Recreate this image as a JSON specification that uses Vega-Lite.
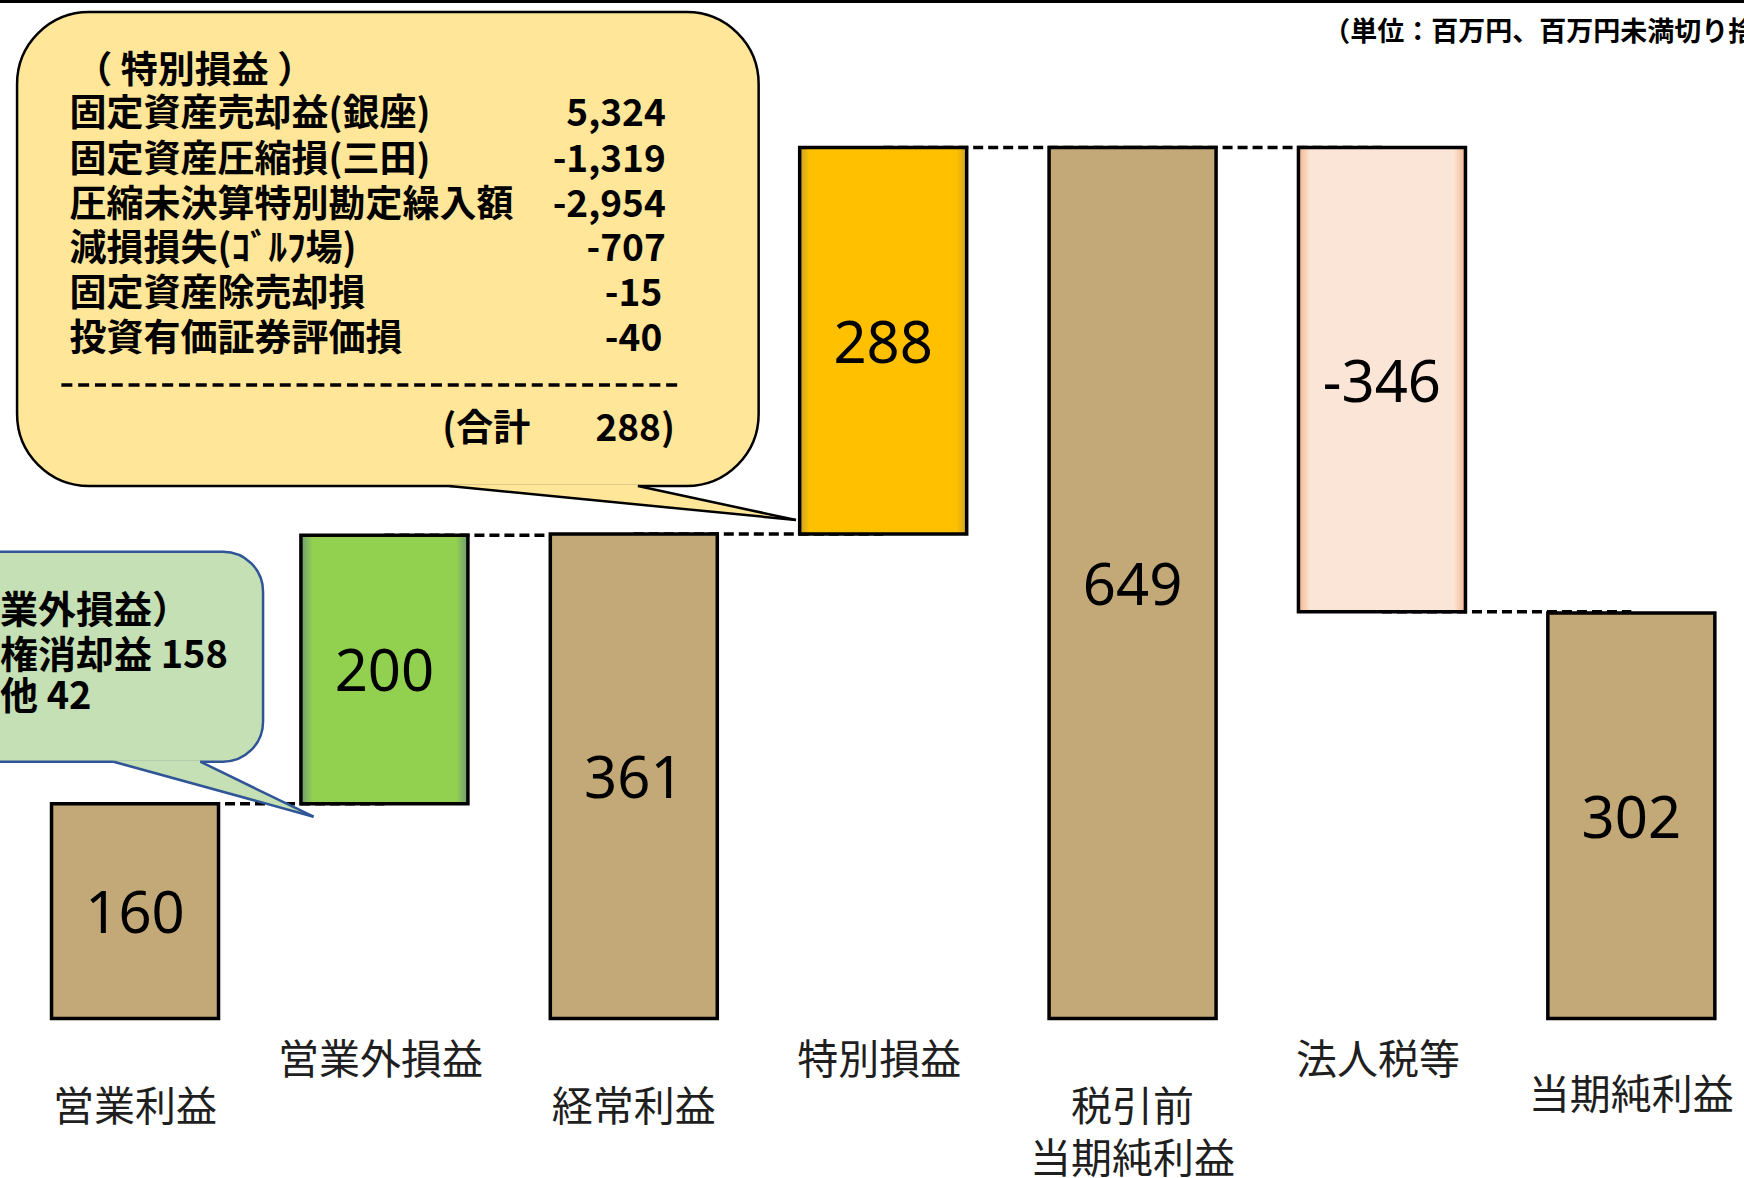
{
  "$schema": "https://vega.github.io/schema/vega-lite/v6.json",
  "width": 1734,
  "height": 939.4,
  "autosize": {"type": "none"},
  "padding": {"left": 10, "top": 79, "right": 0, "bottom": 159.6},
  "background": "white",
  "config": {"view": {"stroke": null}},
  "datasets": {
    "steps": [
      {"i": 0, "name": "営業利益", "kind": "total", "start": 0, "end": 160, "lbl": "160"},
      {"i": 1, "name": "営業外損益", "kind": "gain", "start": 160, "end": 360, "lbl": "200"},
      {"i": 2, "name": "経常利益", "kind": "total", "start": 0, "end": 361, "lbl": "361"},
      {"i": 3, "name": "特別損益", "kind": "special", "start": 361, "end": 649, "lbl": "288"},
      {"i": 4, "name": ["税引前", "当期純利益"], "kind": "total", "start": 0, "end": 649, "lbl": "649"},
      {"i": 5, "name": "法人税等", "kind": "tax", "start": 649, "end": 303, "lbl": "-346"},
      {"i": 6, "name": "当期純利益", "kind": "total", "start": 0, "end": 302, "lbl": "302"}
    ]
  },
  "layer": [
    {
      "data": {"name": "steps"},
      "transform": [
        {"window": [{"op": "lead", "field": "i", "as": "inext"}], "sort": [{"field": "i", "order": "ascending"}]},
        {"filter": "datum.inext != null"}
      ],
      "mark": {"type": "rule", "strokeDash": [10, 5], "strokeWidth": 3.5, "color": "black"},
      "encoding": {
        "x": {"field": "i", "type": "quantitative", "scale": {"domain": [-0.4813, 6.4317], "nice": false, "zero": false}, "axis": null},
        "x2": {"field": "inext"},
        "y": {"field": "end", "type": "quantitative", "scale": {"domain": [0, 700], "nice": false, "zero": false},
              "axis": {"values": [0, 100, 200, 300, 400, 500, 600, 700], "grid": true, "gridColor": "#D9D9D9", "gridWidth": 2.5, "labels": false, "ticks": false, "domain": false, "title": null}}
      }
    },
    {
      "data": {"name": "steps"},
      "mark": {"type": "bar", "width": 167, "stroke": "black", "strokeWidth": 3.5},
      "encoding": {
        "x": {"field": "i", "type": "quantitative", "scale": {"domain": [-0.4813, 6.4317], "nice": false, "zero": false}, "axis": null},
        "y": {"field": "start", "type": "quantitative", "scale": {"domain": [0, 700], "nice": false, "zero": false}, "axis": null},
        "y2": {"field": "end"},
        "fill": {
          "condition": [
            {"test": "datum.kind === 'gain'", "value": {"gradient": "linear", "x1": 0, "y1": 0, "x2": 1, "y2": 0, "stops": [{"offset": 0, "color": "#6F9A74"}, {"offset": 0.07, "color": "#92D050"}, {"offset": 0.93, "color": "#92D050"}, {"offset": 1, "color": "#6F9A74"}]}},
            {"test": "datum.kind === 'special'", "value": {"gradient": "linear", "x1": 0, "y1": 0, "x2": 1, "y2": 0, "stops": [{"offset": 0, "color": "#C9A227"}, {"offset": 0.06, "color": "#FFC000"}, {"offset": 0.94, "color": "#FFC000"}, {"offset": 1, "color": "#C9A227"}]}},
            {"test": "datum.kind === 'tax'", "value": {"gradient": "linear", "x1": 0, "y1": 0, "x2": 1, "y2": 0, "stops": [{"offset": 0, "color": "#F1B48C"}, {"offset": 0.07, "color": "#FBE5D6"}, {"offset": 0.93, "color": "#FBE5D6"}, {"offset": 1, "color": "#F1B48C"}]}}
          ],
          "value": "#C2A977"
        }
      }
    },
    {
      "data": {"name": "steps"},
      "transform": [
        {"fold": ["start", "end"], "as": ["edge", "v"]},
        {"aggregate": [{"op": "mean", "field": "v", "as": "mid"}], "groupby": ["i", "lbl"]}
      ],
      "mark": {"type": "text", "font": "Noto Sans", "fontSize": 58, "color": "black", "baseline": "middle", "align": "center", "dy": 5},
      "encoding": {
        "x": {"field": "i", "type": "quantitative", "scale": {"domain": [-0.4813, 6.4317], "nice": false, "zero": false}, "axis": null},
        "y": {"field": "mid", "type": "quantitative", "scale": {"domain": [0, 700], "nice": false, "zero": false}, "axis": null},
        "text": {"field": "lbl", "type": "nominal"}
      }
    },
    {
      "data": {"name": "steps"},
      "transform": [{"filter": "datum.i % 2 === 1"}],
      "mark": {"type": "text", "font": "Noto Sans CJK JP", "fontSize": 41, "color": "#1F1F1F", "baseline": "top", "align": "center", "dy": 24, "dx": -4},
      "encoding": {
        "x": {"field": "i", "type": "quantitative", "scale": {"domain": [-0.4813, 6.4317], "nice": false, "zero": false}, "axis": null},
        "y": {"datum": 0, "type": "quantitative", "scale": {"domain": [0, 700], "nice": false, "zero": false}, "axis": null},
        "text": {"field": "name", "type": "nominal"}
      }
    },
    {
      "data": {"name": "steps"},
      "transform": [{"filter": "datum.i % 2 === 0 && datum.i < 6"}],
      "mark": {"type": "text", "font": "Noto Sans CJK JP", "fontSize": 41, "color": "#1F1F1F", "baseline": "top", "align": "center", "dy": 71, "lineHeight": 52},
      "encoding": {
        "x": {"field": "i", "type": "quantitative", "scale": {"domain": [-0.4813, 6.4317], "nice": false, "zero": false}, "axis": null},
        "y": {"datum": 0, "type": "quantitative", "scale": {"domain": [0, 700], "nice": false, "zero": false}, "axis": null},
        "text": {"field": "name", "type": "nominal"}
      }
    },
    {
      "data": {"name": "steps"},
      "transform": [{"filter": "datum.i === 6"}],
      "mark": {"type": "text", "font": "Noto Sans CJK JP", "fontSize": 41, "color": "#1F1F1F", "baseline": "top", "align": "center", "dy": 59},
      "encoding": {
        "x": {"field": "i", "type": "quantitative", "scale": {"domain": [-0.4813, 6.4317], "nice": false, "zero": false}, "axis": null},
        "y": {"datum": 0, "type": "quantitative", "scale": {"domain": [0, 700], "nice": false, "zero": false}, "axis": null},
        "text": {"field": "name", "type": "nominal"}
      }
    },
    {
      "data": {"values": [{"x1": -1.2, "x2": 0.5134, "y1": 347.8, "y2": 191.3}]},
      "mark": {"type": "rect", "cornerRadius": 40, "fill": "#C5E0B4", "stroke": "#2F5597", "strokeWidth": 2.5},
      "encoding": {
        "x": {"field": "x1", "type": "quantitative", "scale": {"domain": [-0.4813, 6.4317], "nice": false, "zero": false}, "axis": null},
        "x2": {"field": "x2"},
        "y": {"field": "y1", "type": "quantitative", "scale": {"domain": [0, 700], "nice": false, "zero": false}, "axis": null},
        "y2": {"field": "y2"}
      }
    },
    {
      "data": {"values": [
        {"tx": -0.0858, "ty": 192.4, "ty2": 191.3},
        {"tx": 0.2617, "ty": 192.4, "ty2": 173.5},
        {"tx": 0.2618, "ty": 191.3, "ty2": 173.5},
        {"tx": 0.7158, "ty": 150.3, "ty2": 150.3}
      ]},
      "mark": {"type": "area", "fill": "#C5E0B4", "opacity": 1},
      "encoding": {
        "x": {"field": "tx", "type": "quantitative", "scale": {"domain": [-0.4813, 6.4317], "nice": false, "zero": false}, "axis": null},
        "y": {"field": "ty", "type": "quantitative", "scale": {"domain": [0, 700], "nice": false, "zero": false}, "axis": null},
        "y2": {"field": "ty2"}
      }
    },
    {
      "data": {"values": [
        {"x1": -0.0858, "y1": 191.3, "x2": 0.7158, "y2": 150.3},
        {"x1": 0.2617, "y1": 191.3, "x2": 0.7158, "y2": 150.3}
      ]},
      "mark": {"type": "rule", "color": "#2F5597", "strokeWidth": 2.5},
      "encoding": {
        "x": {"field": "x1", "type": "quantitative", "scale": {"domain": [-0.4813, 6.4317], "nice": false, "zero": false}, "axis": null},
        "x2": {"field": "x2"},
        "y": {"field": "y1", "type": "quantitative", "scale": {"domain": [0, 700], "nice": false, "zero": false}, "axis": null},
        "y2": {"field": "y2"}
      }
    },
    {
      "data": {"values": [
        {"t": "（営業外損益）", "x": -0.846, "y": 303.1},
        {"t": "会員権消却益 158", "x": -0.846, "y": 269.5},
        {"t": "その他 42", "x": -0.846, "y": 238.5}
      ]},
      "mark": {"type": "text", "font": "Noto Sans CJK JP", "fontWeight": "bold", "fontSize": 38, "color": "black", "align": "left", "baseline": "middle"},
      "encoding": {
        "x": {"field": "x", "type": "quantitative", "scale": {"domain": [-0.4813, 6.4317], "nice": false, "zero": false}, "axis": null},
        "y": {"field": "y", "type": "quantitative", "scale": {"domain": [0, 700], "nice": false, "zero": false}, "axis": null},
        "text": {"field": "t", "type": "nominal"}
      }
    },
    {
      "data": {"values": [{"x1": -0.473, "x2": 2.5006, "y1": 749.9, "y2": 396.7}]},
      "mark": {"type": "rect", "cornerRadius": 72, "fill": "#FFE699", "stroke": "black", "strokeWidth": 2.5},
      "encoding": {
        "x": {"field": "x1", "type": "quantitative", "scale": {"domain": [-0.4813, 6.4317], "nice": false, "zero": false}, "axis": null},
        "x2": {"field": "x2"},
        "y": {"field": "y1", "type": "quantitative", "scale": {"domain": [0, 700], "nice": false, "zero": false}, "axis": null},
        "y2": {"field": "y2"}
      }
    },
    {
      "data": {"values": [
        {"tx": 1.2597, "ty": 397.8, "ty2": 396.7},
        {"tx": 2.0164, "ty": 397.8, "ty2": 382.9},
        {"tx": 2.0165, "ty": 396.7, "ty2": 382.9},
        {"tx": 2.6503, "ty": 371.4, "ty2": 371.4}
      ]},
      "mark": {"type": "area", "fill": "#FFE699", "opacity": 1},
      "encoding": {
        "x": {"field": "tx", "type": "quantitative", "scale": {"domain": [-0.4813, 6.4317], "nice": false, "zero": false}, "axis": null},
        "y": {"field": "ty", "type": "quantitative", "scale": {"domain": [0, 700], "nice": false, "zero": false}, "axis": null},
        "y2": {"field": "ty2"}
      }
    },
    {
      "data": {"values": [
        {"x1": 1.2597, "y1": 396.7, "x2": 2.6503, "y2": 371.4},
        {"x1": 2.0164, "y1": 396.7, "x2": 2.6503, "y2": 371.4}
      ]},
      "mark": {"type": "rule", "color": "black", "strokeWidth": 2.5},
      "encoding": {
        "x": {"field": "x1", "type": "quantitative", "scale": {"domain": [-0.4813, 6.4317], "nice": false, "zero": false}, "axis": null},
        "x2": {"field": "x2"},
        "y": {"field": "y1", "type": "quantitative", "scale": {"domain": [0, 700], "nice": false, "zero": false}, "axis": null},
        "y2": {"field": "y2"}
      }
    },
    {
      "data": {"values": [
        {"t": "（ 特別損益 ）", "x": -0.2393, "y": 705.2},
        {"t": "固定資産売却益(銀座)", "x": -0.263, "y": 672.9},
        {"t": "固定資産圧縮損(三田)", "x": -0.263, "y": 639.0},
        {"t": "圧縮未決算特別勘定繰入額", "x": -0.263, "y": 605.4},
        {"t": "減損損失(ｺﾞﾙﾌ場)", "x": -0.263, "y": 572.7},
        {"t": "固定資産除売却損", "x": -0.263, "y": 539.0},
        {"t": "投資有価証券評価損", "x": -0.263, "y": 505.8},
        {"t": "(合計", "x": 1.232, "y": 438.7}
      ]},
      "mark": {"type": "text", "font": "Noto Sans CJK JP", "fontWeight": "bold", "fontSize": 37, "color": "black", "align": "left", "baseline": "middle"},
      "encoding": {
        "x": {"field": "x", "type": "quantitative", "scale": {"domain": [-0.4813, 6.4317], "nice": false, "zero": false}, "axis": null},
        "y": {"field": "y", "type": "quantitative", "scale": {"domain": [0, 700], "nice": false, "zero": false}, "axis": null},
        "text": {"field": "t", "type": "nominal"}
      }
    },
    {
      "data": {"values": [
        {"t": "5,324", "x": 2.128, "y": 672.9},
        {"t": "-1,319", "x": 2.128, "y": 639.0},
        {"t": "-2,954", "x": 2.128, "y": 605.4},
        {"t": "-707", "x": 2.128, "y": 572.7},
        {"t": "-15", "x": 2.114, "y": 539.0},
        {"t": "-40", "x": 2.114, "y": 505.8},
        {"t": "288)", "x": 2.165, "y": 438.7}
      ]},
      "mark": {"type": "text", "font": "Noto Sans CJK JP", "fontWeight": "bold", "fontSize": 37, "color": "black", "align": "right", "baseline": "middle"},
      "encoding": {
        "x": {"field": "x", "type": "quantitative", "scale": {"domain": [-0.4813, 6.4317], "nice": false, "zero": false}, "axis": null},
        "y": {"field": "y", "type": "quantitative", "scale": {"domain": [0, 700], "nice": false, "zero": false}, "axis": null},
        "text": {"field": "t", "type": "nominal"}
      }
    },
    {
      "data": {"values": [{"x1": -0.2954, "x2": 2.1896, "y": 472.0}]},
      "mark": {"type": "rule", "color": "black", "strokeWidth": 3.5, "strokeDash": [11, 5.8]},
      "encoding": {
        "x": {"field": "x1", "type": "quantitative", "scale": {"domain": [-0.4813, 6.4317], "nice": false, "zero": false}, "axis": null},
        "x2": {"field": "x2"},
        "y": {"field": "y", "type": "quantitative", "scale": {"domain": [0, 700], "nice": false, "zero": false}, "axis": null}
      }
    },
    {
      "data": {"values": [{"t": "（単位：百万円、百万円未満切り捨て）", "x": 4.765, "y": 734.3}]},
      "mark": {"type": "text", "font": "Noto Sans CJK JP", "fontWeight": "bold", "fontSize": 27, "color": "black", "align": "left", "baseline": "middle"},
      "encoding": {
        "x": {"field": "x", "type": "quantitative", "scale": {"domain": [-0.4813, 6.4317], "nice": false, "zero": false}, "axis": null},
        "y": {"field": "y", "type": "quantitative", "scale": {"domain": [0, 700], "nice": false, "zero": false}, "axis": null},
        "text": {"field": "t", "type": "nominal"}
      }
    },
    {
      "data": {"values": [{"x1": -0.6, "x2": 6.6, "y": 757.8}]},
      "mark": {"type": "rule", "color": "black", "strokeWidth": 3},
      "encoding": {
        "x": {"field": "x1", "type": "quantitative", "scale": {"domain": [-0.4813, 6.4317], "nice": false, "zero": false}, "axis": null},
        "x2": {"field": "x2"},
        "y": {"field": "y", "type": "quantitative", "scale": {"domain": [0, 700], "nice": false, "zero": false}, "axis": null}
      }
    }
  ]
}
